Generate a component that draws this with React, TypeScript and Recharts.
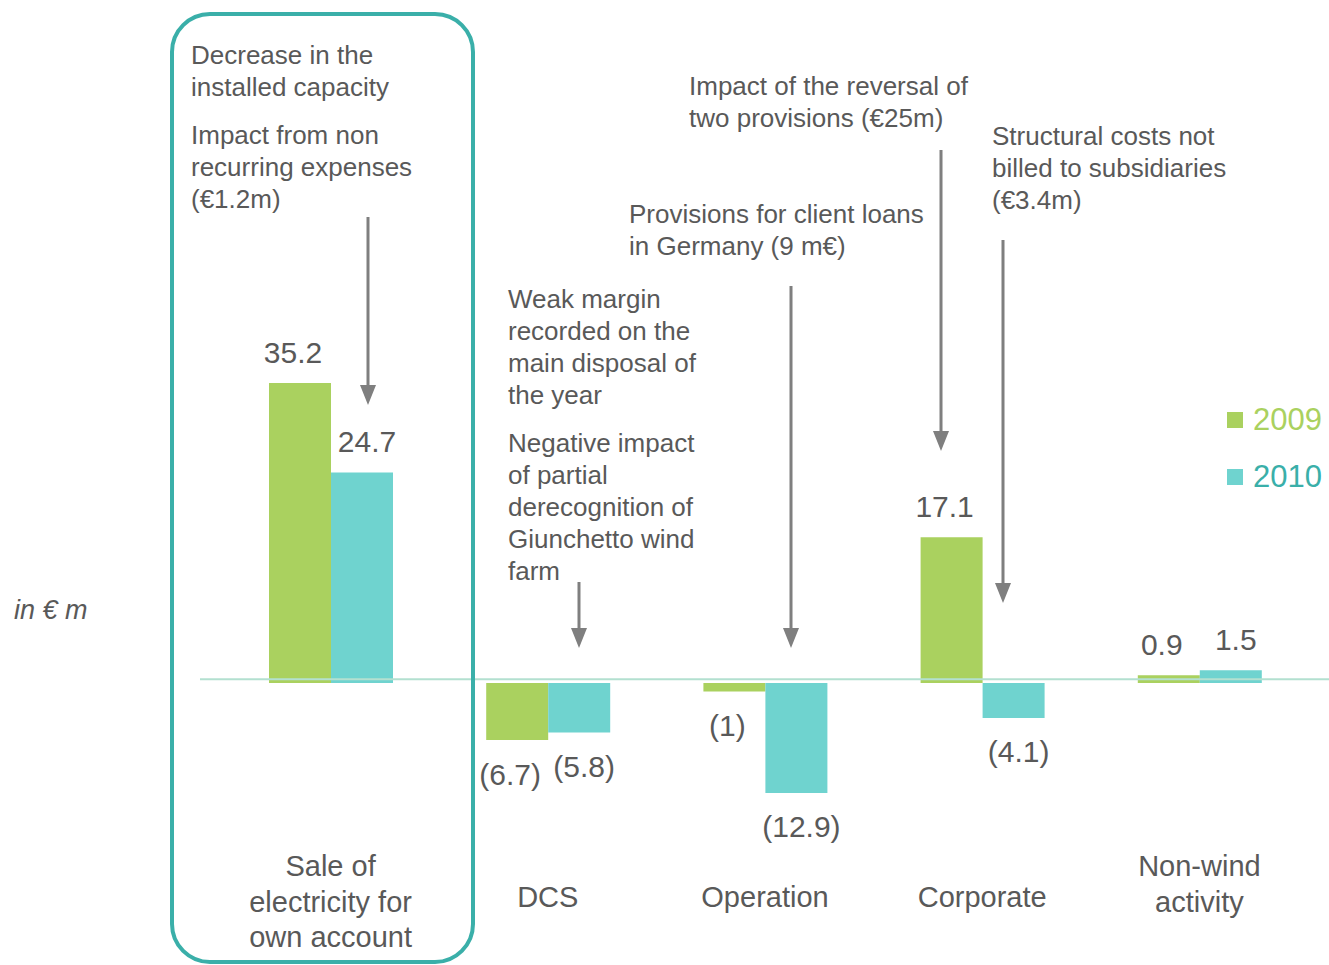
import React from 'react';
import { BarChart, Bar, XAxis, YAxis, ReferenceLine, LabelList } from 'recharts';

const categories = ['Sale of electricity for own account', 'DCS', 'Operation', 'Corporate', 'Non-wind activity'];
const tickLabels: string[][] = [['Sale of', 'electricity for', 'own account'], ['DCS'], ['Operation'], ['Corporate'], ['Non-wind', 'activity']];
const values2009 = [35.2, -6.7, -1, 17.1, 0.9];
const values2010 = [24.7, -5.8, -12.9, -4.1, 1.5];
const seriesNames = ['2009', '2010'];

const annotations: { lines: string[]; x: number; y: number }[] = [
  { lines: ['Decrease in the', 'installed capacity'], x: 191, y: 55 },
  { lines: ['Impact from non', 'recurring expenses', '(€1.2m)'], x: 191, y: 135 },
  { lines: ['Impact of the reversal of', 'two provisions (€25m)'], x: 689, y: 86 },
  { lines: ['Structural costs not', 'billed to subsidiaries', '(€3.4m)'], x: 992, y: 136 },
  { lines: ['Provisions for client loans', 'in Germany (9 m€)'], x: 629, y: 214 },
  { lines: ['Weak margin', 'recorded on the', 'main disposal of', 'the year'], x: 508, y: 299 },
  { lines: ['Negative impact', 'of partial', 'derecognition of', 'Giunchetto wind', 'farm'], x: 508, y: 443 },
];

const arrows: { x: number; y1: number; y2: number }[] = [
  { x: 368, y1: 217, y2: 405 },
  { x: 579, y1: 582, y2: 648 },
  { x: 791, y1: 286, y2: 648 },
  { x: 941, y1: 150, y2: 451 },
  { x: 1003, y1: 240, y2: 603 },
];

const data = categories.map((c, i) => ({ name: c, y2009: values2009[i], y2010: values2010[i] }));

const FONT = 'Liberation Sans, Arial, Helvetica, sans-serif';
const GREY = '#595959';
const GREEN = '#aad15f';
const TEAL = '#6fd3cf';
const TEAL_DARK = '#3aafa9';

const makeValueLabel = (dx: number) => (props: any) => {
  const { x, y, width, height, value } = props;
  const top = Math.min(y, y + height);
  const bottom = Math.max(y, y + height);
  const cx = x + width / 2 + dx;
  const v = Number(value);
  const txt = v < 0 ? `(${Math.abs(v)})` : String(v);
  const ty = v < 0 ? bottom + 34 : top - 31;
  return (
    <text x={cx} y={ty} textAnchor="middle" dominantBaseline="central" fontSize={30} fill={GREY} fontFamily={FONT}>
      {txt}
    </text>
  );
};

const renderTick = (props: any) => {
  const { x, index } = props;
  const lines = tickLabels[index] || [];
  const startY = lines.length > 1 ? 866 : 897;
  return (
    <g>
      {lines.map((l, i) => (
        <text key={i} x={x} y={startY + i * 35.5} textAnchor="middle" dominantBaseline="central" fontSize={29} fill={GREY} fontFamily={FONT}>
          {l}
        </text>
      ))}
    </g>
  );
};

export default function App() {
  return (
    <div style={{ position: 'absolute', left: 0, top: 0, width: 1329, height: 965, background: '#fff', overflow: 'hidden' }}>
      <BarChart width={1329} height={965} data={data} margin={{ top: 342.2, right: 0, bottom: 51.6, left: 200 }} barGap={0}>
        <XAxis dataKey="name" height={60} axisLine={false} tickLine={false} tick={renderTick} interval={0} padding={{ left: 22, right: 21 }} />
        <YAxis hide domain={[-20, 40]} allowDataOverflow />
        <Bar dataKey="y2009" name="2009" fill={GREEN} barSize={62} isAnimationActive={false}>
          <LabelList dataKey="y2009" content={makeValueLabel(-7)} />
        </Bar>
        <Bar dataKey="y2010" name="2010" fill={TEAL} barSize={62} isAnimationActive={false}>
          <LabelList dataKey="y2010" content={makeValueLabel(5)} />
        </Bar>
        <ReferenceLine y={0.45} stroke="#b3e0d0" strokeWidth={2} />
      </BarChart>
      <div style={{ position: 'absolute', left: 1227, top: 391, width: 102, fontFamily: FONT }}>
        {seriesNames.map((n, i) => (
          <div key={n} style={{ display: 'flex', alignItems: 'center', height: 57 }}>
            <div style={{ width: 16, height: 16, background: i === 0 ? GREEN : TEAL, marginRight: 10 }} />
            <span style={{ fontSize: 31, color: i === 0 ? GREEN : TEAL_DARK, lineHeight: '57px' }}>{n}</span>
          </div>
        ))}
      </div>
      <svg width={1329} height={965} style={{ position: 'absolute', left: 0, top: 0, pointerEvents: 'none' }}>
        <rect x={172} y={14} width={301} height={948} rx={38} ry={38} fill="none" stroke={TEAL_DARK} strokeWidth={4} />
        {arrows.map((a, i) => (
          <g key={i}>
            <line x1={a.x} y1={a.y1} x2={a.x} y2={a.y2 - 16} stroke="#7f7f7f" strokeWidth={3} />
            <polygon points={`${a.x - 8},${a.y2 - 20} ${a.x + 8},${a.y2 - 20} ${a.x},${a.y2}`} fill="#7f7f7f" />
          </g>
        ))}
        {annotations.map((an, i) => (
          <g key={i}>
            {an.lines.map((l, j) => (
              <text key={j} x={an.x} y={an.y + j * 32} dominantBaseline="central" fontSize={26} fill={GREY} fontFamily={FONT}>
                {l}
              </text>
            ))}
          </g>
        ))}
        <text x={14} y={610} dominantBaseline="central" fontSize={27} fontStyle="italic" fill={GREY} fontFamily={FONT}>
          in € m
        </text>
      </svg>
    </div>
  );
}
